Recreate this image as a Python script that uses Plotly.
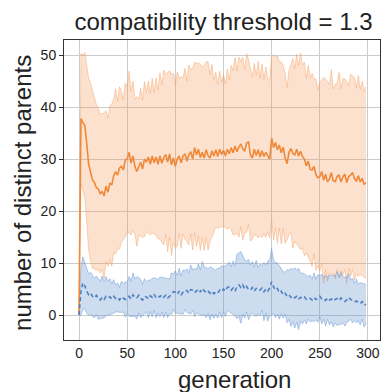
import plotly.graph_objects as go

# generations sampled every 2 steps
generation = list(range(0, 300, 2))

# orange: mean and std of number of distinct parents
orange_mean = [
    0, 37.8, 37.0, 36.5, 33, 29, 27.5, 26, 25.5, 24.5,
    24.3, 23.3, 23.8, 22.9, 24.8, 23.6, 25.4, 25.0, 26.8, 27.6,
    26.9, 28.3, 28.6, 27.9, 29.8, 30.0, 31.3, 29.2, 30.6, 28.6,
    27.6, 28.4, 29.4, 28.1, 30.0, 29.4, 30.4, 29.0, 30.6, 29.3,
    30.4, 29.0, 30.6, 29.2, 30.3, 30.9, 29.4, 31.0, 28.9, 30.2,
    28.6, 30.0, 30.6, 29.3, 30.6, 31.0, 29.6, 30.8, 31.4, 30.0,
    32.2, 30.8, 31.9, 30.3, 31.3, 30.2, 31.8, 30.6, 30.2, 31.6,
    30.6, 31.8, 30.5, 31.9, 30.9, 31.7, 30.6, 31.9, 31.0, 32.2,
    31.2, 32.5, 31.4, 32.3, 32.9, 32.0, 31.5, 33.1, 33.3, 30.8,
    30.2, 31.9, 30.7, 31.8, 30.4, 31.6, 30.5, 31.3, 30.6, 30.0,
    34.0, 32.2, 33.2, 31.8, 32.7, 31.2, 32.3, 30.2, 29.1, 31.3,
    32.0, 31.1, 30.8, 31.9, 30.6, 31.5, 30.5, 30.0, 28.7, 29.6,
    28.0, 27.9, 28.6, 27.0, 26.4, 26.6, 27.6, 25.9, 27.1, 25.6,
    26.2, 27.4, 25.8, 25.7, 26.7, 26.9, 25.6, 26.6, 27.1, 25.5,
    26.6, 26.9, 27.4, 26.2, 25.8, 26.8, 25.6, 26.3, 25.1, 25.5,
]
orange_std = [
    0, 12.5, 13, 14, 15, 16.5, 17, 17, 16.5, 16,
    15.5, 15.2, 15, 15.8, 14.5, 14.2, 14.8, 15.6, 14.7, 15.9,
    14.2, 15.6, 14.6, 13.4, 14.8, 13.9, 15.6, 13.8, 14.4, 12.9,
    14.4, 13.1, 14.2, 13.2, 14.9, 13.4, 14.6, 13.6, 14.9, 13.5,
    15.2, 14.3, 16.0, 15.1, 16.8, 15.4, 17.2, 16.0, 17.4, 16.3,
    15.6, 16.8, 14.9, 16.5, 15.0, 16.4, 15.4, 17.3, 15.8, 17.5,
    16.4, 17.6, 16.6, 17.9, 16.4, 17.8, 16.9, 18.1, 16.0, 16.6,
    14.5, 14.9, 13.8, 15.0, 13.9, 14.6, 13.8, 15.4, 14.2, 15.8,
    15.8, 17.0, 15.6, 17.3, 15.9, 17.6, 15.7, 17.2, 15.8, 16.6,
    15.6, 16.5, 15.4, 17.0, 15.1, 16.7, 14.8, 16.4, 14.6, 15.2,
    15.8, 17.8, 16.4, 18.0, 16.0, 17.5, 15.6, 16.4, 14.6, 15.8,
    16.2, 18.2, 16.6, 18.3, 17.4, 18.9, 17.6, 18.6, 16.8, 18.4,
    17.6, 18.6, 16.8, 18.4, 16.9, 18.2, 17.6, 19.8, 18.3, 19.2,
    18.1, 19.8, 17.7, 18.7, 17.9, 19.8, 17.9, 18.9, 18.3, 19.4,
    17.6, 19.4, 18.6, 19.5, 17.9, 19.3, 17.8, 18.7, 17.9, 18.4,
]

# blue: mean and std of number of distinct parents
blue_mean = [
    0, 4.5, 6.2, 5.6, 4.6, 3.9, 4.2, 3.6, 3.3, 3.8,
    3.1, 2.9, 3.4, 3.0, 3.6, 3.3, 3.5, 3.1, 3.6, 3.2,
    3.4, 2.9, 3.5, 3.3, 3.0, 3.2, 3.6, 3.1, 3.9, 3.4,
    3.3, 3.8, 3.2, 2.9, 3.6, 3.5, 3.1, 3.7, 3.4, 4.0,
    3.3, 3.6, 3.5, 3.9, 3.4, 3.8, 3.3, 3.6, 4.1, 4.5,
    4.4, 4.0, 4.6, 3.9, 4.4, 4.8, 4.7, 4.2, 4.9, 4.8,
    4.3, 4.6, 5.0, 4.4, 5.1, 4.7, 4.3, 4.6, 4.2, 4.6,
    4.1, 4.4, 4.2, 4.8, 4.5, 5.0, 4.6, 5.3, 5.4, 4.8,
    5.2, 4.6, 5.5, 5.8, 5.3, 5.8, 5.0, 5.5, 4.9, 4.8,
    5.3, 4.6, 5.1, 4.7, 4.8, 5.2, 4.5, 5.0, 4.6, 5.2,
    6.4, 5.4, 4.8, 5.1, 4.3, 4.6, 3.9, 4.2, 3.6, 3.9,
    3.4, 3.7, 3.3, 3.6, 3.1, 3.4, 3.2, 3.5, 3.0, 3.3,
    3.2, 2.9, 3.4, 3.0, 3.2, 3.6, 3.1, 3.2, 2.8, 3.3,
    2.9, 3.1, 2.7, 3.0, 3.2, 2.8, 3.3, 2.9, 2.6, 2.9,
    3.4, 3.0, 2.8, 2.5, 2.7, 2.4, 2.2, 2.6, 1.9, 2.1,
]
blue_std = [
    0, 4.6, 5.0, 4.5, 4.2, 4.0, 4.0, 3.9, 3.8, 3.7,
    3.9, 3.6, 4.1, 3.5, 3.8, 3.2, 3.5, 2.9, 3.2, 2.6,
    2.8, 2.4, 3.0, 2.7, 3.4, 3.0, 3.8, 3.4, 4.2, 3.6,
    4.1, 3.4, 3.7, 3.0, 3.4, 2.9, 3.6, 3.0, 3.7, 3.1,
    3.8, 3.2, 3.8, 3.3, 3.9, 3.2, 3.8, 3.3, 4.0, 3.4,
    4.1, 3.6, 4.4, 3.6, 4.3, 3.7, 4.2, 3.9, 4.7, 3.9,
    4.6, 4.2, 4.8, 4.3, 5.2, 4.6, 4.8, 4.3, 5.1, 4.4,
    4.7, 4.2, 4.8, 4.2, 5.0, 4.3, 4.9, 4.4, 4.8, 4.5,
    5.2, 4.8, 6.2, 6.1, 6.9, 5.6, 5.6, 4.9, 5.8, 4.7,
    5.0, 4.6, 5.4, 4.4, 5.0, 4.3, 5.6, 4.6, 5.8, 5.3,
    6.4, 5.1, 5.3, 4.9, 5.1, 4.3, 4.5, 4.0, 5.1, 4.7,
    5.6, 5.0, 5.8, 5.0, 5.9, 4.6, 4.9, 4.4, 4.7, 4.1,
    4.5, 4.0, 4.7, 3.9, 4.6, 3.9, 4.8, 4.0, 4.9, 4.1,
    4.8, 4.4, 5.0, 4.5, 5.2, 4.6, 5.1, 4.4, 4.7, 4.3,
    4.6, 3.8, 4.3, 3.6, 4.2, 3.5, 4.1, 3.4, 4.2, 3.6,
]

x_ticks = [0, 50, 100, 150, 200, 250, 300]
y_ticks = [0, 10, 20, 30, 40, 50]

ORANGE = "#f0883a"
BLUE = "#4f80c0"
FONT = "Liberation Sans, Arial, sans-serif"

fig = go.Figure()


def add_band(mean, std, edge, fill):
    upper = [m + s for m, s in zip(mean, std)]
    lower = [m - s for m, s in zip(mean, std)]
    fig.add_trace(go.Scatter(x=generation, y=upper, mode="lines",
                             line=dict(color=edge, width=1),
                             showlegend=False, hoverinfo="skip"))
    fig.add_trace(go.Scatter(x=generation, y=lower, mode="lines",
                             line=dict(color=edge, width=1),
                             fill="tonexty", fillcolor=fill,
                             showlegend=False, hoverinfo="skip"))


add_band(orange_mean, orange_std, "rgba(245,160,100,0.45)", "rgba(245,150,80,0.28)")
add_band(blue_mean, blue_std, "rgba(110,155,215,0.5)", "rgba(100,145,205,0.32)")

fig.add_trace(go.Scatter(x=generation, y=orange_mean, mode="lines",
                         line=dict(color=ORANGE, width=1.6), showlegend=False))
fig.add_trace(go.Scatter(x=generation, y=blue_mean, mode="lines",
                         line=dict(color=BLUE, width=1.6, dash="4px,3px"),
                         showlegend=False))

axis_common = dict(
    showgrid=True, gridcolor="#cccccc", gridwidth=1,
    showline=True, linecolor="#333333", linewidth=1, mirror=True,
    zeroline=False,
    tickfont=dict(family=FONT, size=14, color="#222222"),
)

fig.update_layout(
    width=382, height=392,
    margin=dict(l=64, r=2, t=40, b=52),
    paper_bgcolor="white", plot_bgcolor="white",
    font=dict(family=FONT, color="#222222"),
    title=dict(text="compatibility threshold = 1.3", x=0.585, xanchor="center",
               y=0.945, yanchor="middle", font=dict(size=24)),
    xaxis=dict(range=[-15.6, 312.5], tickvals=x_ticks, ticks="", **axis_common),
    yaxis=dict(range=[-4.8, 52.9], tickvals=y_ticks, ticks="outside",
               ticklen=4, tickcolor="#333333", **axis_common),
    annotations=[
        dict(text="generation", xref="paper", yref="paper",
             x=0.541, y=-0.133, xanchor="center", yanchor="middle",
             showarrow=False, font=dict(size=24)),
        dict(text="number of distinct parents", xref="paper", yref="paper",
             x=-0.133, y=0.49, xanchor="center", yanchor="middle",
             textangle=-90, showarrow=False, font=dict(size=24)),
    ],
)

fig.write_html("out.html")
